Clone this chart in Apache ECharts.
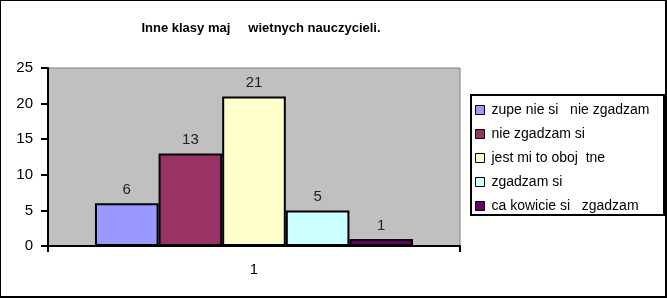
<!DOCTYPE html>
<html>
<head>
<meta charset="utf-8">
<script src="https://cdn.jsdelivr.net/npm/echarts@6/dist/echarts.min.js"></script>
<style>
html,body{margin:0;padding:0;background:#fff;}
#chart{width:667px;height:298px;}
</style>
</head>
<body>
<div id="chart"></div>
<script>
const titleText = 'Inne klasy maj     wietnych nauczycieli.';
const categories = ['1'];
const seriesNames = ['zupe nie si   nie zgadzam', 'nie zgadzam si', 'jest mi to oboj  tne', 'zgadzam si', 'ca kowicie si   zgadzam'];
const seriesValues = [6, 13, 21, 5, 1];
const yTicks = {min: 0, max: 25, interval: 5};
const seriesColors = ['#9999FF', '#993366', '#FFFFCC', '#CCFFFF', '#660066'];

const font = 'Arial, "Liberation Sans", sans-serif';
const chart = echarts.init(document.getElementById('chart'), null, {renderer: 'canvas'});

const series = seriesNames.map((name, i) => ({
  name: name,
  type: 'bar',
  data: [seriesValues[i]],
  barGap: '0%',
  barCategoryGap: '22.8%',
  itemStyle: {color: seriesColors[i], borderColor: '#000', borderWidth: 2},
  label: {show: true, position: 'top', distance: 6, color: '#222', fontFamily: font, fontSize: 15},
  emphasis: {disabled: true},
  animation: false
}));

chart.setOption({
  animation: false,
  title: {
    text: titleText,
    left: 261,
    top: 22,
    padding: 0,
    textAlign: 'center',
    textStyle: {fontFamily: font, fontSize: 13, fontWeight: 'bold', color: '#000'}
  },
  grid: {
    left: 48, top: 68, right: 207, bottom: 52,
    show: true, backgroundColor: '#C0C0C0', borderColor: '#808080', borderWidth: 1,
    containLabel: false
  },
  xAxis: {
    type: 'category',
    data: categories,
    axisLine: {lineStyle: {color: '#000', width: 2}},
    axisTick: {show: true, length: 6, lineStyle: {color: '#000', width: 2}},
    axisLabel: {color: '#000', fontFamily: font, fontSize: 15, margin: 16},
    splitLine: {show: false}
  },
  yAxis: {
    type: 'value',
    min: yTicks.min, max: yTicks.max, interval: yTicks.interval,
    axisLine: {show: true, lineStyle: {color: '#000', width: 2}},
    axisTick: {show: true, length: 7, lineStyle: {color: '#000', width: 2}},
    axisLabel: {color: '#000', fontFamily: font, fontSize: 15, margin: 15},
    splitLine: {show: false}
  },
  legend: {
    orient: 'vertical',
    left: 475,
    top: 103,
    padding: 0,
    z: 10,
    itemWidth: 9,
    itemHeight: 9,
    itemGap: 10,
    icon: 'rect',
    selectedMode: false,
    itemStyle: {borderColor: '#000', borderWidth: 1},
    textStyle: {fontFamily: font, fontSize: 14, color: '#000', lineHeight: 14, padding: [0, 0, 0, 2]},
    data: seriesNames
  },
  graphic: [
    {type: 'rect', z: 1, shape: {x: 471, y: 95, width: 193, height: 120}, style: {fill: '#fff', stroke: '#000', lineWidth: 2}},
    {type: 'rect', z: 1, shape: {x: 0, y: 0, width: 1, height: 298}, style: {fill: '#000'}},
    {type: 'rect', z: 1, shape: {x: 0, y: 0, width: 667, height: 1}, style: {fill: '#000'}},
    {type: 'rect', z: 1, shape: {x: 665, y: 0, width: 2, height: 298}, style: {fill: '#000'}},
    {type: 'rect', z: 1, shape: {x: 0, y: 296, width: 667, height: 2}, style: {fill: '#000'}}
  ],
  series: series
});
</script>
</body>
</html>
